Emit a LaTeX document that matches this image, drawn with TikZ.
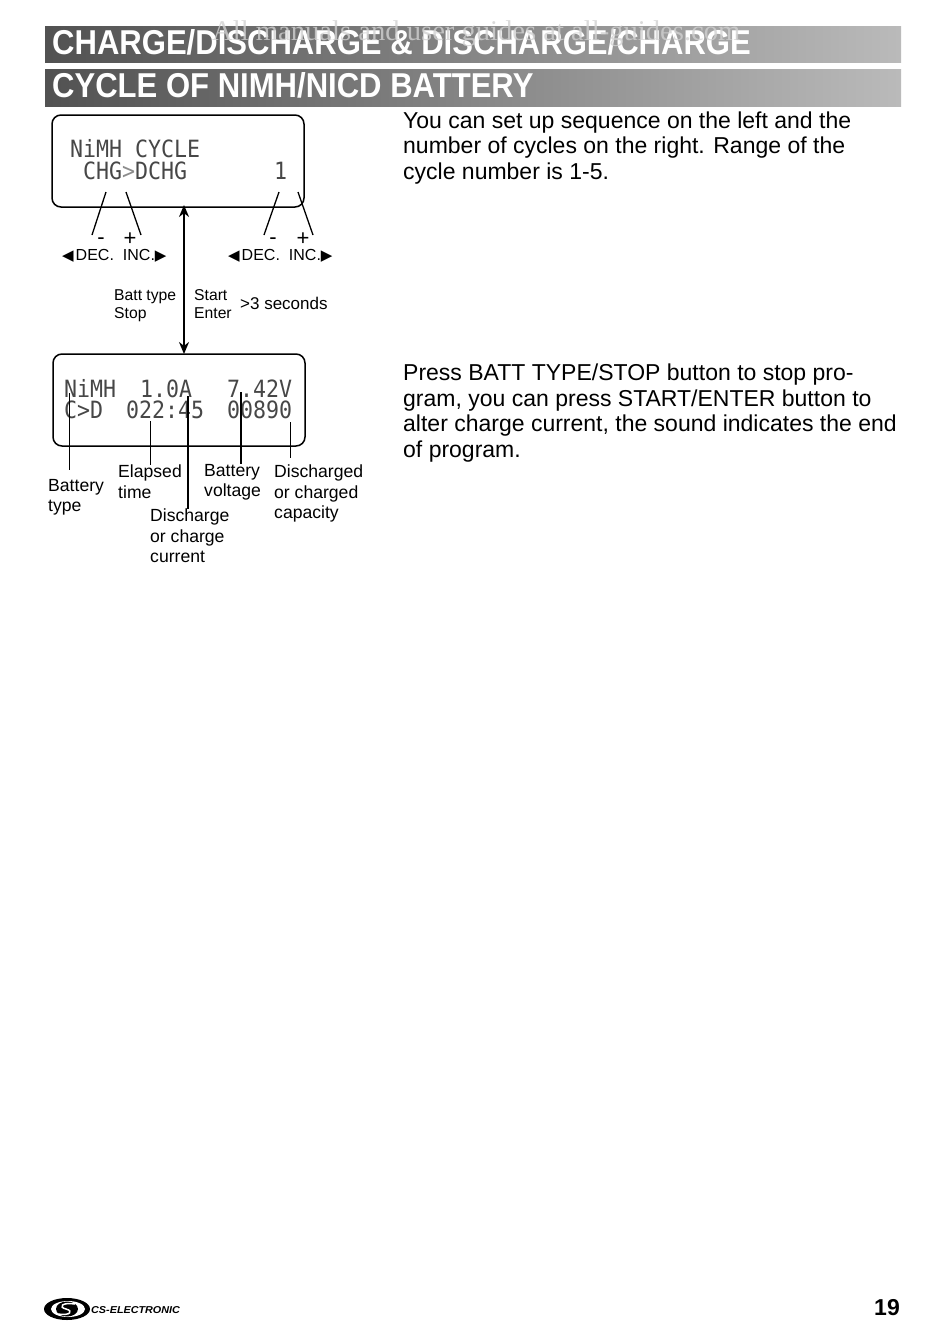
\documentclass[tikz,border=0pt]{standalone}
\usepackage{fontspec}
\setmainfont{Liberation Sans}
\newfontfamily\lcdfont{DejaVu Sans Mono}
\newfontfamily\markfont{DejaVu Sans}
\newfontfamily\wmfont{Liberation Serif}
\usepackage{tikz}
\usetikzlibrary{arrows.meta,positioning}
\newcommand{\fsz}[2]{\fontsize{#1}{#2}\selectfont}
\tikzset{
  titlebar/.style={anchor=north west, inner sep=0pt, minimum width=856pt,
    left color=black!68, right color=black!27},
  titletxt/.style={anchor=base west, inner sep=0pt, text=white, font=\fsz{34.5}{36}\bfseries},
  lcdbox/.style={draw=black, line width=1.5pt, rounded corners=9pt, minimum width=252pt,
    minimum height=92pt, anchor=north west, outer sep=0pt},
  lcdtxt/.style={anchor=base west, inner sep=0pt, text=black!72, font=\lcdfont\fsz{21.6}{22}},
  para/.style={anchor=north west, inner sep=0pt, align=left, font=\fsz{23}{25.5}},
  lbl/.style={anchor=north west, inner sep=0pt, align=left, font=\fsz{17.6}{20.5}},
  keylbl/.style={anchor=base west, inner sep=0pt, font=\fsz{16}{18}},
  sgn/.style={anchor=base, inner sep=0pt, font=\fsz{22}{22}},
  leader/.style={line width=1pt},
  tick/.style={line width=1.3pt},
  dblflow/.style={{Stealth[length=12pt,width=10pt]}-{Stealth[length=12pt,width=10pt]}, line width=2pt}
}
\newcommand{\lft}{{\markfont\fsz{15}{15}◀}\hspace{2pt}}
\newcommand{\rgt}{{\markfont\fsz{15}{15}▶}}
\newcommand{\ttlscale}[1]{\scalebox{0.9}[1]{#1}}
\newcommand{\lcd}[1]{\scalebox{1}[1.1]{#1}}
\begin{document}
\begin{tikzpicture}[x=1pt,y=-1pt]
  \useasboundingbox (0,0) rectangle (950,1325);

  % heading bars
  \node[titlebar, minimum height=36pt] (bar1) at (45,26) {};
  \node[titlebar, minimum height=37pt] (bar2) at (45,69) {};
  \node[titletxt] (ttl1) at (52,54.5) {\ttlscale{CHARGE/DISCHARGE \& DISCHARGE/CHARGE}};
  \node[titletxt] (ttl2) at (52,97.5) {\ttlscale{CYCLE OF NIMH/NICD BATTERY}};
  \node[anchor=base west, inner sep=0pt, text=black!18, opacity=0.8, font=\wmfont\fsz{28.6}{30}] (wmark) at (212,40)
    {All manuals and user guides at all-guides.com};

  % upper display
  \node[lcdbox] (lcdcycle) at (52,115) {};
  \node[lcdtxt] (cyc1) at (70,157) {\lcd{NiMH CYCLE}};
  \node[lcdtxt] (cyc2) at (83,179) {\lcd{CHG{\color{black!45}>}DCHG}};
  \node[lcdtxt] (cyc3) at (274,179) {\lcd{1}};

  % lower display
  \node[lcdbox] (lcdrun) at (53,354) {};
  \node[lcdtxt] (run1) at (64,397) {\lcd{NiMH}};
  \node[lcdtxt] (run2) at (140,397) {\lcd{1.0A}};
  \node[lcdtxt] (run3) at (227,397) {\lcd{7.42V}};
  \node[lcdtxt] (run4) at (64,418) {\lcd{C>D}};
  \node[lcdtxt] (run5) at (126,418) {\lcd{022:45}};
  \node[lcdtxt] (run6) at (227,418) {\lcd{00890}};

  % key marks under the upper display
  \node[sgn] (minA) at (101,244) {-};
  \node[sgn] (plusA) at (130,245) {+};
  \node[sgn] (minB) at (273,244) {-};
  \node[sgn] (plusB) at (303,245) {+};
  \node[keylbl] (keyA) at (62,260) {\lft DEC.\hspace{9pt}INC.\rgt};
  \node[keylbl] (keyB) at (228,260) {\lft DEC.\hspace{9pt}INC.\rgt};
  \coordinate (tA) at (106,192); \coordinate (eA) at (92,235);
  \coordinate (tB) at (126,192); \coordinate (eB) at (141,235);
  \coordinate (tC) at (279,192); \coordinate (eC) at (264,235);
  \coordinate (tD) at (298,192); \coordinate (eD) at (313,235);
  \foreach \a/\b in {tA/eA,tB/eB,tC/eC,tD/eD}
    \draw[tick] (\a) -- (\b);

  % button texts beside the arrow
  \draw[dblflow, shorten <=-2pt] ([xshift=6pt]lcdcycle.south) -- ([xshift=5pt]lcdrun.north);
  \node[lbl, font=\fsz{15.7}{18}] (bstop) at (114,289) {Batt type\\Stop};
  \node[lbl, font=\fsz{15.7}{18}] (start) at (194,289) {Start\\Enter};
  \node[lbl, font=\fsz{17}{18}] (secs) at (240,297) {>3 seconds};

  % captions under the lower display
  \node[lbl] (ctype) at (48,479) {Battery\\type};
  \node[lbl] (ctime) at (118,465) {Elapsed\\time};
  \node[lbl] (ccurr) at (150,509) {Discharge\\or charge\\current};
  \node[lbl] (cvolt) at (204,464) {Battery\\voltage};
  \node[lbl] (ccap) at (274,465) {Discharged\\or charged\\capacity};
  \coordinate (pType) at (69.5,393);
  \coordinate (pTime) at (150,421);
  \coordinate (pCurr) at (188,396);
  \coordinate (pVolt) at (241,392);
  \coordinate (pCap) at (290,422);
  \draw[leader] (pType) -- ++(0,77);
  \draw[leader] (pTime) -- (pTime |- ctime.north);
  \draw[leader, line width=1.4pt] (pCurr) -- (pCurr |- ccurr.north);
  \draw[leader, line width=2pt] (pVolt) -- (pVolt |- cvolt.north);
  \draw[leader] (pCap) -- ++(0,36);

  % right column
  \node[para] (txtA) at (403,111.5) {You can set up sequence on the left and the\\number of cycles on the right. Range of the\\cycle number is 1-5.};
  \node[para] (txtB) at (403,364) {Press BATT TYPE/STOP button to stop pro-\\gram, you can press START/ENTER button to\\alter charge current, the sound indicates the end\\of program.};

  % footer
  \fill[black] (67,1309) ellipse [x radius=23, y radius=11];
  \fill[white] (68,1309) ellipse [x radius=17, y radius=8];
  \fill[black] (67,1309) ellipse [x radius=11, y radius=7.5];
  \draw[white, line width=1.5pt] (75,1304) .. controls (62,1302) and (58,1307) .. (66,1309) .. controls (74,1311) and (70,1316) .. (58,1314);
  \node[anchor=base west, inner sep=0pt, font=\fsz{10}{10}\bfseries\itshape] (logo) at (91,1313) {\scalebox{1.08}[1]{CS-ELECTRONIC}};
  \node[anchor=base east, inner sep=0pt, font=\fsz{23}{24}\bfseries] (pageno) at (900,1315) {19};
\end{tikzpicture}
\end{document}
